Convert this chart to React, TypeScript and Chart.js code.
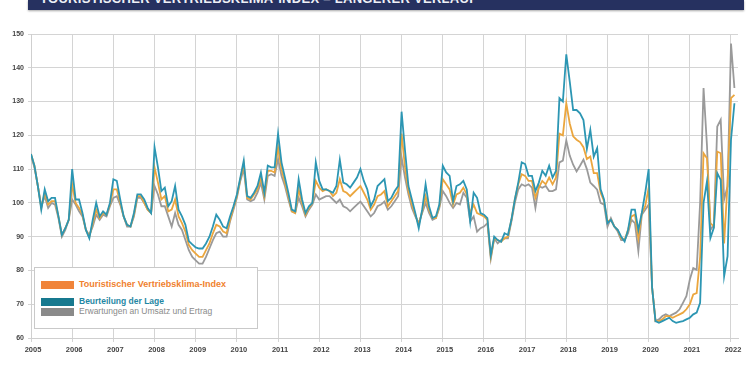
import React, { useEffect, useRef } from "react";
import { Chart, registerables } from "chart.js";

Chart.register(...registerables);

// ---- Data (monthly, starting January 2005) ----
const startYear = 2005;
const yearTicks = [2005, 2006, 2007, 2008, 2009, 2010, 2011, 2012, 2013, 2014, 2015, 2016, 2017, 2018, 2019, 2020, 2021, 2022];
const yTicks = [60, 70, 80, 90, 100, 110, 120, 130, 140, 150];

const seriesIndexName = "Touristischer Vertriebsklima-Index";
const seriesLageName = "Beurteilung der Lage";
const seriesErwName = "Erwartungen an Umsatz und Ertrag";

const lage = [
  114.5, 111, 105, 98, 104, 100.5, 101.5, 101.5, 96, 90.5, 92.5, 95,
  110, 101, 101, 97, 92, 89.5, 95, 100, 96, 97.5, 96.5, 100,
  107, 106.5, 101, 96, 93.5, 93, 97, 102.5, 102.5, 101, 98.5, 97,
  116.5, 110.5, 103.5, 104.5, 99, 100.5, 105, 98, 96, 93.5, 88.7, 87.7,
  86.8, 86.5, 86.5, 88, 90, 93, 96.5, 95, 93, 92.5, 96, 99,
  102.5, 107.5, 112.5, 102, 101.5, 103, 105, 109, 103, 111, 110.5, 110.5,
  120.5, 112, 107.5, 103, 98, 97.5, 107, 101, 97, 99, 100, 112,
  106.5, 104, 104, 103.5, 103, 105, 112.8, 106, 105.5, 104.5, 106, 107.5,
  110, 106.5, 104, 99, 101, 105, 106, 107, 100.5, 101.5, 103.5, 105,
  127, 115.5, 105, 101, 97, 92.5, 98, 105.5, 99, 95.5, 96, 99.5,
  111, 109, 108, 100.5, 105, 105.5, 106.5, 104, 94.5, 103, 101.5, 97,
  96.5, 95.5, 84.5, 90, 89, 88.5, 91, 90.5, 95, 101, 106, 112,
  111.5, 108, 108, 103.5, 106, 109.5, 108, 111, 107.5, 109.5, 131, 130,
  144, 136, 127.5, 127.5, 126.5, 124.5, 116, 121.6, 113.7, 116.2, 104, 101,
  94, 95, 93, 92, 90, 88.6, 92, 98, 98, 92, 97, 103,
  110, 75, 65, 64.5, 65, 65.5, 66, 65, 64.5, 64.8, 65, 65.5,
  66, 67, 67.5, 70.4, 100, 106.4, 89.6, 92.6, 108.8, 106.8, 78.3, 84.2,
  118.7, 129.5,
];

const klimaIndex = [
  114.5, 111, 105, 98.5, 103, 99.5, 100.5, 100.5, 96, 90.5, 92.5, 95,
  105.5, 100, 98.5, 96.5, 92, 90, 94, 98, 95.5, 97, 96.5, 99.5,
  104, 104, 100, 96, 93.5, 93, 96.5, 102, 102, 100, 98, 97,
  110.5, 106, 101, 102, 97.5, 98, 101, 96, 94, 91.5, 87.5, 86,
  85, 84, 84, 86, 88, 91, 93.5, 93, 91.5, 91, 95, 98.5,
  102, 107, 111.5, 101.5, 101, 102.5, 104, 107.5, 102, 109.5, 109.5, 109,
  116.5, 110, 106, 102, 97.5, 97, 104, 100, 96.5, 98.5, 100, 106.5,
  104.5, 103.5, 104, 103.5, 102, 103, 107, 103.5, 103, 102, 103, 104,
  105, 103, 101, 98, 99.5, 102, 102.5, 103.5, 99, 100.5, 102, 103.5,
  120.5, 110.5, 103.5, 99.5, 96.5, 93.5, 97.5, 102, 98, 95.5, 95.5, 99,
  107, 105.5, 104, 99.5, 102.5, 103, 104.5, 102.5, 97, 99.5, 97, 96.5,
  96, 95, 84, 89.5, 89, 88.5, 89.5, 90, 95, 101, 105.5, 108.5,
  108, 106.5, 106.5, 101.5, 104.5, 106.5, 105.5, 107.5, 105.5, 107.5, 120.5, 120,
  129.5, 123.5, 119.7, 118.7, 118, 116.5, 113, 113.7, 108.8, 108.8, 103, 100.5,
  94.5, 95, 93, 92, 89.5, 89, 92, 96, 96.5, 89.6, 97, 99,
  104.5, 75, 65, 65, 65.5, 66.5, 66.5, 66, 66.5, 67, 67.5, 68.5,
  70, 72.9, 73.3, 84, 114.7, 113.2, 94, 93, 115.2, 114.7, 88, 105.9,
  131, 132,
];

const erwartungen = [
  114, 110.5, 105, 99, 102, 98.5, 100, 99.5, 95.5, 90, 92, 95,
  101, 99.5, 97.5, 96, 92, 90.5, 93, 96.5, 95, 96.5, 96, 99,
  101.5, 102, 99.5, 96, 93, 93, 96, 101.5, 101.5, 100, 98, 97,
  105, 102.5, 99, 99, 96, 93, 97, 93.5, 92, 89, 86, 84,
  83, 82, 82, 84, 86.5, 89, 91, 91.5, 90, 90, 94.5, 98,
  101.5, 106.5, 110, 101, 100.5, 101, 103, 106, 101, 108, 108.5, 108,
  113, 108, 105, 101, 97.5, 97, 101.5, 99, 96, 98, 99.5, 102.5,
  101, 101.5, 102, 102, 101, 100, 101, 99, 98.5, 97.5, 98.5, 99.5,
  100.4, 99, 97.5, 96, 97, 99, 99.5, 100.4, 98, 99, 100.5, 102,
  113.5, 107.5, 102.5, 98.5, 96, 94, 97, 100, 97, 95, 95.5, 98.5,
  103.5, 102, 100, 98.5, 100, 99.5, 103, 101.5, 94.5, 96, 91.5, 92.5,
  93, 94, 83.5, 89.5, 88, 89, 89.5, 89.5, 94.5, 100, 104, 105.5,
  105, 105.5, 104.5, 98.5, 105, 104.5, 105, 103.5, 103.5, 104, 112, 112.5,
  118.5, 114, 111.3, 109.3, 111, 112.8, 110, 106, 105, 103.9, 100, 99.5,
  93, 95.5, 93, 91.5, 89, 89, 91, 95, 94, 85.7, 96.5, 98,
  99.5, 75, 65, 65.5, 66.5, 67, 66.5, 67, 67.5, 68.5, 70.4, 72.4,
  77.3, 80.7, 80.2, 100, 134, 117, 92, 93.5, 122.6, 124.6, 101, 104.9,
  147.2, 134,
];

const FONT = "'Liberation Sans', Arial, sans-serif";

function toPoints(vals: number[]) {
  return vals.map((v, i) => ({ x: startYear + i / 12, y: v }));
}

export default function App() {
  const canvasRef = useRef<HTMLCanvasElement | null>(null);

  useEffect(() => {
    const canvas = canvasRef.current;
    if (!canvas) return;
    const chart = new Chart(canvas, {
      type: "line",
      data: {
        datasets: [
          {
            label: seriesLageName,
            data: toPoints(lage),
            borderColor: "#2c96b3",
            borderWidth: 1.8,
            pointRadius: 0,
            tension: 0,
            fill: false,
          },
          {
            label: seriesIndexName,
            data: toPoints(klimaIndex),
            borderColor: "#eba63e",
            borderWidth: 1.8,
            pointRadius: 0,
            tension: 0,
            fill: false,
          },
          {
            label: seriesErwName,
            data: toPoints(erwartungen),
            borderColor: "#9a9a9a",
            borderWidth: 1.8,
            pointRadius: 0,
            tension: 0,
            fill: false,
          },
        ],
      },
      options: {
        animation: false,
        responsive: false,
        maintainAspectRatio: false,
        layout: { padding: { top: 34, right: 12, left: 0, bottom: 0 } },
        plugins: {
          legend: { display: false },
          tooltip: { enabled: false },
          title: { display: false },
        },
        scales: {
          x: {
            type: "linear",
            min: yearTicks[0],
            max: yearTicks[yearTicks.length - 1] + 0.17,
            afterFit: (s: any) => {
              s.height = 37;
            },
            afterBuildTicks: (s: any) => {
              s.ticks = yearTicks.map((v) => ({ value: v }));
            },
            ticks: {
              autoSkip: false,
              maxRotation: 0,
              callback: (v: any) => String(v),
              font: { family: FONT, size: 7.5, weight: "bold" },
              color: "#444",
              padding: 3,
              labelOffset: 2,
            },
            grid: { color: "#d4d4d4", lineWidth: 1, tickLength: 4 },
            border: { color: "#cfcfcf" },
          },
          y: {
            min: yTicks[0],
            max: yTicks[yTicks.length - 1],
            afterFit: (s: any) => {
              s.width = 31;
            },
            afterBuildTicks: (s: any) => {
              s.ticks = yTicks.map((v) => ({ value: v }));
            },
            ticks: {
              callback: (v: any) => String(v),
              font: { family: FONT, size: 7, weight: "bold" },
              color: "#444",
              padding: 4,
            },
            grid: { color: "#d4d4d4", lineWidth: 1, tickLength: 3 },
            border: { color: "#cfcfcf" },
          },
        },
      },
    });
    return () => chart.destroy();
  }, []);

  const row = (top: number, color: string, swatch: string, text: string, weight: string, size: number) => (
    <div
      style={{
        position: "absolute",
        left: 6,
        top,
        height: 9,
        display: "flex",
        alignItems: "center",
        whiteSpace: "nowrap",
      }}
    >
      <div style={{ width: 33, height: 8, background: swatch, marginRight: 5 }} />
      <span style={{ fontFamily: FONT, fontSize: size, fontWeight: weight as any, color, lineHeight: "9px" }}>{text}</span>
    </div>
  );

  return (
    <div
      style={{
        position: "fixed",
        left: 0,
        top: 0,
        width: 750,
        height: 375,
        background: "#ffffff",
        overflow: "hidden",
      }}
    >
      <div
        style={{
          position: "absolute",
          left: 28,
          top: 0,
          width: 716,
          height: 10,
          background: "#263160",
          overflow: "hidden",
          boxShadow: "0 1px 2px rgba(0,0,0,0.35)",
        }}
      >
        <div
          style={{
            position: "absolute",
            left: 12,
            top: -8,
            fontFamily: FONT,
            fontWeight: "bold",
            fontSize: 13,
            lineHeight: "14px",
            color: "#eef0f6",
            whiteSpace: "nowrap",
            letterSpacing: 0.3,
          }}
        >
          TOURISTISCHER VERTRIEBSKLIMA-INDEX – LÄNGERER VERLAUF
        </div>
      </div>
      <canvas ref={canvasRef} width={750} height={375} style={{ position: "absolute", left: 0, top: 0, width: 750, height: 375 }} />
      <div
        style={{
          position: "absolute",
          left: 34,
          top: 267,
          width: 222,
          height: 60,
          border: "1px solid #c9c9c9",
          background: "#ffffff",
        }}
      >
        {row(12, "#f0812e", "#f0843a", seriesIndexName, "bold", 9)}
        {row(29, "#1f87a4", "#17798f", seriesLageName, "bold", 8.5)}
        {row(39, "#8a8a8a", "#8a8a8a", seriesErwName, "normal", 8.5)}
      </div>
    </div>
  );
}
